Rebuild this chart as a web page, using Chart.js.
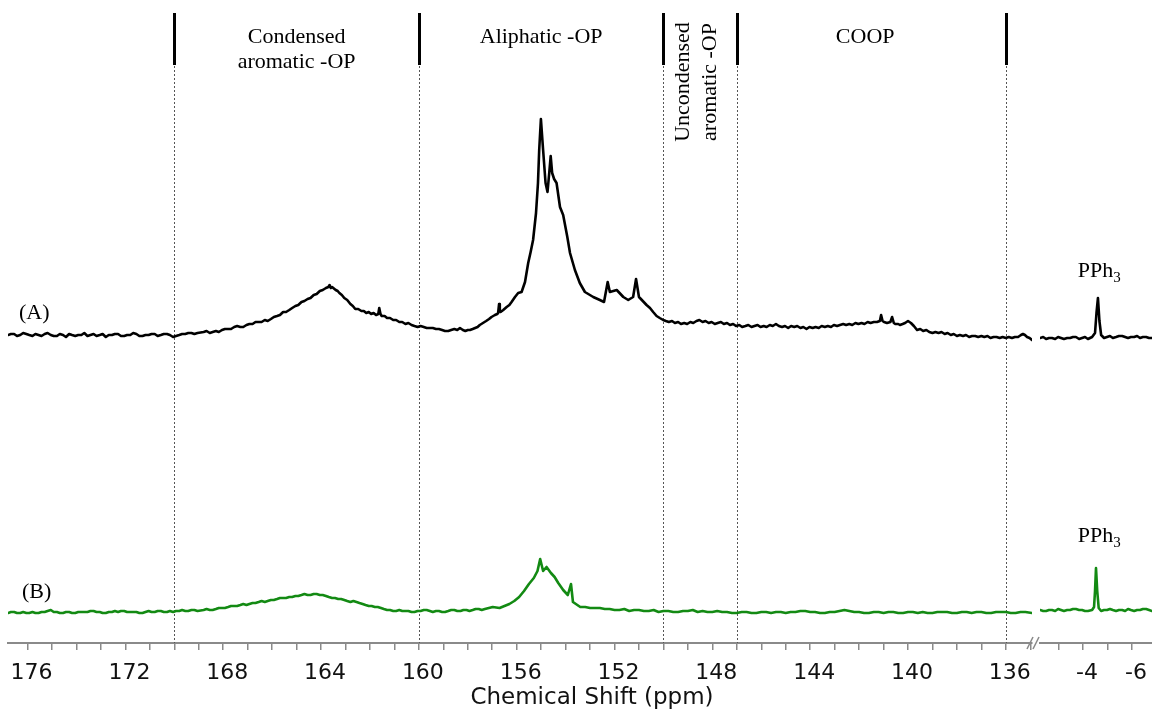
<!DOCTYPE html>
<html>
<head>
<meta charset="utf-8">
<script src="https://cdn.jsdelivr.net/npm/chart.js@4.4.1/dist/chart.umd.min.js"></script>
<style>
  body { margin: 0; background: #fff; }
  #wrap { position: relative; width: 1152px; height: 715px; }
  #wrap canvas { position: absolute; left: 0; top: 0; }
</style>
</head>
<body>
<div id="wrap">
  <canvas id="mainChart" width="1152" height="715"></canvas>
  <canvas id="refChart" width="1152" height="715"></canvas>
</div>
<script>
// [ppm, intensity] for spectrum (A), 176.8 - 134.9 ppm
const traceA = [
  [176.80, 0], [176.68, 1], [176.55, 1], [176.43, -1], [176.30, 0], [176.18, 2], [176.05, 1], [175.93, 0],
  [175.80, -1], [175.68, 1], [175.55, 0], [175.43, -1], [175.30, 1], [175.18, 2], [175.05, 0], [174.93, -1],
  [174.80, -1], [174.68, 1], [174.55, 0], [174.43, -2], [174.30, 1], [174.18, 0], [174.05, -1], [173.93, 0],
  [173.80, 0], [173.68, 2], [173.55, -1], [173.43, 0], [173.30, 1], [173.18, -1], [173.05, 0], [172.93, 1],
  [172.80, -2], [172.68, 0], [172.55, 0], [172.43, 1], [172.30, 1], [172.18, -1], [172.05, -1], [171.93, 0],
  [171.80, 0], [171.68, 2], [171.55, 1], [171.43, -1], [171.30, -1], [171.18, 0], [171.05, 0], [170.93, 1],
  [170.80, 1], [170.68, -1], [170.55, 0], [170.43, 1], [170.30, 1], [170.18, 0], [170.05, -2], [169.93, -1],
  [169.80, 0], [169.68, 1], [169.55, 1], [169.43, 2], [169.30, 2], [169.18, 1], [169.05, 2],
  [168.80, 3], [168.68, 4], [168.55, 2], [168.43, 3], [168.30, 4], [168.18, 3], [168.05, 5], [167.93, 6],
  [167.80, 6], [167.68, 6], [167.55, 8], [167.43, 9], [167.30, 8], [167.18, 8], [167.05, 10], [166.93, 11],
  [166.80, 11], [166.68, 13], [166.55, 13], [166.43, 13], [166.30, 15], [166.18, 14], [166.05, 16], [165.93, 18],
  [165.80, 19], [165.68, 20], [165.55, 23], [165.43, 23], [165.30, 25], [165.18, 27], [165.05, 29], [164.93, 30],
  [164.80, 33], [164.68, 34], [164.55, 36], [164.43, 37], [164.30, 40], [164.18, 41], [164.05, 44], [163.93, 45],
  [163.80, 47], [163.70, 48], [163.65, 50], [163.60, 47], [163.55, 48], [163.40, 45], [163.32, 44], [163.25, 42],
  [163.15, 40], [163.05, 37], [162.93, 35], [162.80, 31], [162.70, 29], [162.60, 26], [162.48, 26], [162.35, 24],
  [162.25, 24], [162.15, 22], [162.05, 23], [161.95, 21], [161.85, 22], [161.75, 20], [161.66, 21], [161.62, 27],
  [161.57, 21], [161.52, 19], [161.40, 19], [161.30, 17], [161.18, 17], [161.05, 15], [160.93, 15], [160.80, 13],
  [160.68, 13], [160.55, 11], [160.43, 12], [160.30, 10], [160.18, 9], [160.05, 8], [159.93, 9], [159.80, 8],
  [159.68, 7], [159.55, 7], [159.43, 7], [159.30, 6], [159.18, 6], [159.05, 5], [158.93, 4], [158.80, 4],
  [158.68, 5], [158.55, 6], [158.43, 5], [158.32, 7], [158.20, 5], [158.10, 4], [158.00, 5], [157.91, 5],
  [157.80, 6], [157.70, 7], [157.60, 8], [157.51, 10], [157.38, 12], [157.25, 14], [157.13, 16], [157.03, 18],
  [156.96, 19], [156.89, 20], [156.80, 21], [156.76, 22], [156.72, 31], [156.69, 24], [156.66, 23], [156.55, 25],
  [156.41, 28], [156.30, 30], [156.21, 33], [156.07, 38], [155.94, 42], [155.80, 43], [155.66, 53], [155.53, 72],
  [155.43, 83], [155.33, 95], [155.21, 122], [155.13, 152], [155.08, 185], [155.01, 216], [154.92, 185], [154.82, 152],
  [154.74, 143], [154.67, 162], [154.61, 179], [154.55, 162], [154.47, 156], [154.37, 152], [154.23, 128], [154.10, 120],
  [153.93, 98], [153.82, 82], [153.62, 65], [153.42, 52], [153.21, 43], [152.87, 38], [152.60, 35], [152.43, 33],
  [152.28, 53], [152.19, 43], [151.91, 45], [151.64, 38], [151.44, 35], [151.24, 38], [151.12, 56], [151.00, 38],
  [150.69, 30], [150.55, 27], [150.42, 23], [150.28, 19], [150.15, 17], [150.01, 15], [149.90, 14], [149.78, 13],
  [149.65, 14], [149.53, 12], [149.40, 13], [149.28, 11], [149.15, 12], [149.03, 11], [148.90, 13], [148.78, 12],
  [148.65, 14], [148.53, 15], [148.40, 13], [148.28, 14], [148.15, 12], [148.03, 13], [147.90, 11], [147.78, 12],
  [147.65, 13], [147.53, 11], [147.40, 12], [147.28, 10], [147.15, 11], [147.03, 9], [146.90, 10], [146.78, 8],
  [146.65, 9], [146.53, 10], [146.40, 8], [146.28, 9], [146.15, 10], [146.03, 8], [145.90, 9], [145.78, 8],
  [145.65, 10], [145.53, 9], [145.40, 11], [145.28, 9], [145.15, 8], [145.03, 9], [144.90, 7], [144.78, 9],
  [144.65, 8], [144.53, 9], [144.40, 7], [144.28, 8], [144.15, 6], [144.03, 8], [143.90, 7], [143.78, 8],
  [143.65, 7], [143.53, 9], [143.40, 8], [143.28, 9], [143.15, 8], [143.03, 10], [142.90, 9], [142.78, 10],
  [142.65, 11], [142.53, 10], [142.40, 11], [142.28, 10], [142.15, 12], [142.03, 11], [141.90, 12], [141.78, 11],
  [141.65, 13], [141.53, 12], [141.40, 13], [141.27, 13], [141.15, 14], [141.10, 20], [141.04, 14], [140.98, 13],
  [140.86, 12], [140.72, 13], [140.65, 18], [140.58, 12], [140.52, 11], [140.40, 11], [140.33, 10], [140.22, 11],
  [140.12, 12], [140.00, 14], [139.88, 12], [139.76, 9], [139.63, 5], [139.50, 6], [139.38, 4], [139.25, 5],
  [139.13, 3], [139.00, 2], [138.88, 3], [138.75, 2], [138.63, 3], [138.50, 1], [138.38, 2], [138.25, 0],
  [138.13, 1], [138.00, -1], [137.88, 0], [137.75, -1], [137.63, 0], [137.50, -2], [137.38, -1], [137.25, -1],
  [137.13, -2], [137.00, -1], [136.88, -2], [136.75, -1], [136.63, -3], [136.50, -2], [136.38, -2], [136.25, -3],
  [136.13, -2], [136.00, -3], [135.88, -2], [135.75, -3], [135.63, -2], [135.50, -2], [135.38, 0], [135.30, 1],
  [135.22, 0], [135.13, -2], [135.03, -3], [134.93, -5]
];

// [ppm, intensity] for spectrum (B), 176.8 - 134.9 ppm
const traceB = [
  [176.80, -2], [176.68, -1], [176.55, -1], [176.43, -2], [176.30, -2], [176.18, -1], [176.05, -2], [175.93, -2],
  [175.80, -1], [175.68, -2], [175.55, -2], [175.43, -1], [175.30, -1], [175.18, 0], [175.05, 1], [174.93, -1],
  [174.80, -1], [174.68, -2], [174.55, -2], [174.43, -1], [174.30, -1], [174.18, -2], [174.05, -2], [173.93, -1],
  [173.80, -1], [173.68, -1], [173.55, -1], [173.43, 0], [173.30, 0], [173.18, -1], [173.05, -1], [172.93, -2],
  [172.80, -2], [172.68, -1], [172.55, -1], [172.43, 0], [172.30, -1], [172.18, 0], [172.05, 0], [171.93, -1],
  [171.80, -1], [171.68, -1], [171.55, -1], [171.43, -2], [171.30, -2], [171.18, -1], [171.05, 0], [170.93, -1],
  [170.80, -1], [170.68, 0], [170.55, 0], [170.43, -1], [170.30, -1], [170.18, 0], [170.05, -1], [169.93, 0],
  [169.80, 0], [169.68, 1], [169.55, 0], [169.43, 0], [169.30, 1], [169.18, 1], [169.05, 0],
  [168.80, 1], [168.68, 2], [168.55, 1], [168.43, 1], [168.30, 2], [168.18, 3], [168.05, 3], [167.93, 3],
  [167.80, 4], [167.68, 5], [167.55, 5], [167.43, 5], [167.30, 6], [167.18, 7], [167.05, 6], [166.93, 7],
  [166.80, 8], [166.68, 8], [166.55, 9], [166.43, 10], [166.30, 9], [166.18, 10], [166.05, 11], [165.93, 11],
  [165.80, 12], [165.68, 13], [165.55, 13], [165.43, 13], [165.30, 14], [165.18, 14], [165.05, 15], [164.93, 15],
  [164.80, 16], [164.68, 17], [164.55, 16], [164.43, 16], [164.30, 17], [164.18, 17], [164.05, 16], [163.93, 16],
  [163.80, 15], [163.68, 14], [163.55, 13], [163.43, 13], [163.30, 12], [163.18, 12], [163.05, 11], [162.93, 10],
  [162.80, 9], [162.68, 10], [162.55, 9], [162.43, 8], [162.30, 7], [162.18, 6], [162.05, 5], [161.93, 5],
  [161.80, 4], [161.68, 4], [161.55, 3], [161.43, 2], [161.30, 1], [161.18, 1], [161.05, 0], [160.93, 0],
  [160.80, 1], [160.68, 0], [160.55, 0], [160.43, 0], [160.30, -1], [160.18, -1], [160.05, 0], [159.93, 0],
  [159.80, 1], [159.68, 1], [159.55, 0], [159.43, -1], [159.30, 0], [159.18, 0], [159.05, -1], [158.93, -1],
  [158.80, 0], [158.68, 1], [158.55, 1], [158.43, 0], [158.30, 0], [158.18, 1], [158.05, 1], [157.93, 0],
  [157.80, 1], [157.68, 2], [157.55, 2], [157.43, 1], [157.30, 2], [156.98, 4], [156.70, 3], [156.50, 5],
  [156.30, 7], [156.10, 10], [155.90, 14], [155.70, 20], [155.50, 27], [155.30, 33], [155.15, 40], [155.04, 52],
  [154.92, 40], [154.78, 44], [154.60, 38], [154.45, 34], [154.30, 28], [154.10, 21], [153.91, 16], [153.78, 27],
  [153.70, 9], [153.40, 4], [153.20, 4], [153.00, 3], [152.80, 3], [152.60, 3], [152.40, 2], [152.20, 2],
  [152.00, 1], [151.80, 1], [151.60, 2], [151.40, 0], [151.20, 1], [151.00, 1], [150.80, 0], [150.60, 0],
  [150.40, 1], [150.20, -1], [150.00, 0], [149.80, 0], [149.60, -1], [149.40, -1], [149.20, 0], [149.00, 0],
  [148.80, 1], [148.60, -1], [148.40, 0], [148.20, -1], [148.00, -1], [147.80, 0], [147.60, -1], [147.40, -1],
  [147.20, -2], [147.00, -2], [146.80, -1], [146.60, -1], [146.40, -2], [146.20, -2], [146.00, -1], [145.80, -1],
  [145.60, -2], [145.40, -1], [145.20, -1], [145.00, -2], [144.80, -1], [144.60, -1], [144.40, 0], [144.20, 0],
  [144.00, -1], [143.80, -1], [143.60, -2], [143.40, -2], [143.20, -1], [143.00, -1], [142.80, 0], [142.60, 1],
  [142.40, 0], [142.20, -1], [142.00, -1], [141.80, -2], [141.60, -2], [141.40, -1], [141.20, -1], [141.00, -2],
  [140.80, -1], [140.60, -1], [140.40, -2], [140.20, -2], [140.00, -1], [139.80, -1], [139.60, -2], [139.40, -1],
  [139.20, -2], [139.00, -2], [138.80, -1], [138.60, -1], [138.40, -1], [138.20, -2], [138.00, -2], [137.80, -1],
  [137.60, -1], [137.40, -2], [137.20, -1], [137.00, -1], [136.80, -2], [136.60, -2], [136.40, -1], [136.20, -1],
  [136.00, -1], [135.80, -2], [135.60, -2], [135.40, -1], [135.20, -1], [134.93, -2]
];

// PPh3 window, -2.2 to -6.8 ppm
const refA = [
  [-2.24, -3], [-2.37, -2], [-2.49, -4], [-2.61, -3], [-2.73, -3], [-2.86, -4], [-2.98, -2], [-3.10, -3],
  [-3.22, -4], [-3.35, -3], [-3.47, -3], [-3.59, -2], [-3.71, -2], [-3.84, -4], [-3.96, -3], [-4.08, -2],
  [-4.20, -4], [-4.37, -2], [-4.49, 2], [-4.55, 22], [-4.61, 37], [-4.67, 14], [-4.74, 0], [-4.86, -3],
  [-4.98, -2], [-5.10, -1], [-5.22, -3], [-5.35, -2], [-5.47, -1], [-5.60, -1], [-5.72, -2], [-5.84, -3],
  [-5.96, -2], [-6.09, -2], [-6.21, -1], [-6.33, -3], [-6.45, -2], [-6.58, -2], [-6.70, -3], [-6.82, -3]
];
const refB = [
  [-2.24, 1], [-2.37, 0], [-2.49, 0], [-2.61, 1], [-2.73, 1], [-2.86, 0], [-2.98, 2], [-3.10, 1],
  [-3.22, 0], [-3.35, 1], [-3.47, 1], [-3.59, 2], [-3.71, 2], [-3.84, 1], [-3.96, 1], [-4.08, 0],
  [-4.20, 0], [-4.37, 1], [-4.45, 4], [-4.49, 20], [-4.53, 43], [-4.58, 20], [-4.64, 3], [-4.74, 0],
  [-4.86, 1], [-4.98, 1], [-5.10, 2], [-5.22, 1], [-5.35, 0], [-5.47, 1], [-5.60, 1], [-5.72, 0],
  [-5.84, 2], [-5.96, 1], [-6.09, 0], [-6.21, 1], [-6.33, 1], [-6.45, 2], [-6.58, 2], [-6.70, 1], [-6.82, 0]
];

const mainTicks = [176, 175, 174, 173, 172, 171, 170, 169, 168, 167, 166, 165, 164, 163, 162,
  161, 160, 159, 158, 157, 156, 155, 154, 153, 152, 151, 150, 149, 148, 147, 146, 145, 144,
  143, 142, 141, 140, 139, 138, 137, 136, 135];
const refTicks = [-3, -4, -5, -6];

const regionEdges = [170, 160, 150, 147, 136];
const regionNames = [
  { at: 165, lines: ["Condensed", "aromatic -OP"] },
  { at: 155, lines: ["Aliphatic -OP"] },
  { at: 148.5, lines: ["Uncondensed", "aromatic -OP"], vertical: true },
  { at: 141.75, lines: ["COOP"] },
];

const offsetA = 308;
const offsetB = 32;
const AXIS_COLOR = "#8a8a8a";
const GREEN = "#138a13";

Chart.defaults.font.family = "DejaVu Sans";
Chart.defaults.color = "#111";

function toPoints(trace, off) {
  return trace.map(([x, y]) => ({ x: x, y: y + off }));
}

function xAxis(min, max, ticks, every) {
  return {
    type: "linear",
    reverse: true,
    min: min,
    max: max,
    afterBuildTicks: (s) => {
      s.ticks = ticks.map((v) => ({ value: v }));
    },
    afterFit: (s) => {
      s.height = 72;
      s.paddingLeft = 0;
      s.paddingRight = 0;
    },
    border: { display: true, color: AXIS_COLOR, width: 2 },
    grid: { drawOnChartArea: false, drawTicks: true, tickLength: 7, color: AXIS_COLOR, lineWidth: 1.5 },
    ticks: {
      autoSkip: false,
      maxRotation: 0,
      padding: 10,
      labelOffset: 4,
      font: { size: 22 },
      color: "#111",
      callback: (v) => (v % every === 0 ? String(v) : ""),
    },
  };
}

const yAxis = { display: false, min: 0, max: 643 };

function lineSet(data, color) {
  return {
    data: data,
    showLine: true,
    borderColor: color,
    borderWidth: 2.6,
    borderJoinStyle: "round",
    borderCapStyle: "round",
    pointRadius: 0,
    tension: 0,
    fill: false,
  };
}

const serif = (size) => size + "px 'Liberation Serif'";

const regionPlugin = {
  id: "regions",
  beforeDatasetsDraw(chart) {
    const { ctx, chartArea, scales } = chart;
    ctx.save();
    regionEdges.forEach((p) => {
      const x = Math.round(scales.x.getPixelForValue(p)) + 0.5;
      ctx.strokeStyle = "#555";
      ctx.lineWidth = 1;
      ctx.setLineDash([2, 2]);
      ctx.beginPath();
      ctx.moveTo(x, 62);
      ctx.lineTo(x, chartArea.bottom);
      ctx.stroke();
      ctx.setLineDash([]);
      ctx.strokeStyle = "#000";
      ctx.lineWidth = 3;
      ctx.beginPath();
      ctx.moveTo(x, 13);
      ctx.lineTo(x, 65);
      ctx.stroke();
    });

    ctx.fillStyle = "#000";
    ctx.font = serif(22);
    ctx.textAlign = "center";
    ctx.textBaseline = "alphabetic";
    regionNames.forEach((r) => {
      const x = scales.x.getPixelForValue(r.at);
      if (r.vertical) {
        ctx.save();
        ctx.translate(x, 82);
        ctx.rotate(-Math.PI / 2);
        r.lines.forEach((t, i) => ctx.fillText(t, 0, -11 + i * 27));
        ctx.restore();
      } else {
        r.lines.forEach((t, i) => ctx.fillText(t, x, 43 + i * 25));
      }
    });

    ctx.textAlign = "left";
    ctx.fillText("(A)", 19, 319);
    ctx.fillText("(B)", 22, 598);

    ctx.font = "23px 'DejaVu Sans'";
    ctx.textAlign = "center";
    ctx.textBaseline = "middle";
    ctx.fillStyle = "#111";
    ctx.fillText("Chemical Shift (ppm)", 592, 698);
    ctx.restore();
  },
};

const refPlugin = {
  id: "refLabels",
  afterDraw(chart) {
    const { ctx, chartArea, scales } = chart;
    ctx.save();
    ctx.fillStyle = "#000";
    ctx.textAlign = "left";
    ctx.textBaseline = "alphabetic";
    [[-4.6, 277], [-4.6, 542]].forEach(([p, base]) => {
      const x0 = scales.x.getPixelForValue(p) - 20;
      ctx.font = serif(22);
      ctx.fillText("PPh", x0, base);
      const w = ctx.measureText("PPh").width;
      ctx.font = serif(15);
      ctx.fillText("3", x0 + w, base + 5);
    });
    // axis break mark
    const x = chartArea.left;
    const y = chartArea.bottom;
    ctx.strokeStyle = AXIS_COLOR;
    ctx.lineWidth = 1.5;
    [-10, -4].forEach((dx) => {
      ctx.beginPath();
      ctx.moveTo(x + dx - 3, y + 6);
      ctx.lineTo(x + dx + 3, y - 6);
      ctx.stroke();
    });
    ctx.restore();
  },
};

const common = {
  responsive: false,
  animation: false,
  events: [],
  plugins: { legend: { display: false }, tooltip: { enabled: false } },
};

new Chart(document.getElementById("mainChart"), {
  type: "scatter",
  data: {
    datasets: [
      lineSet(toPoints(traceA, offsetA), "#000"),
      lineSet(toPoints(traceB, offsetB), GREEN),
    ],
  },
  options: Object.assign({}, common, {
    layout: { padding: { left: 8, right: 120, top: 0, bottom: 0 } },
    scales: { x: xAxis(134.93, 176.8, mainTicks, 4), y: yAxis },
  }),
  plugins: [regionPlugin],
});

new Chart(document.getElementById("refChart"), {
  type: "scatter",
  data: {
    datasets: [
      lineSet(toPoints(refA, offsetA), "#000"),
      lineSet(toPoints(refB, offsetB), GREEN),
    ],
  },
  options: Object.assign({}, common, {
    layout: { padding: { left: 1040, right: 0, top: 0, bottom: 0 } },
    scales: { x: xAxis(-6.82, -2.24, refTicks, 2), y: yAxis },
  }),
  plugins: [refPlugin],
});
</script>
</body>
</html>
